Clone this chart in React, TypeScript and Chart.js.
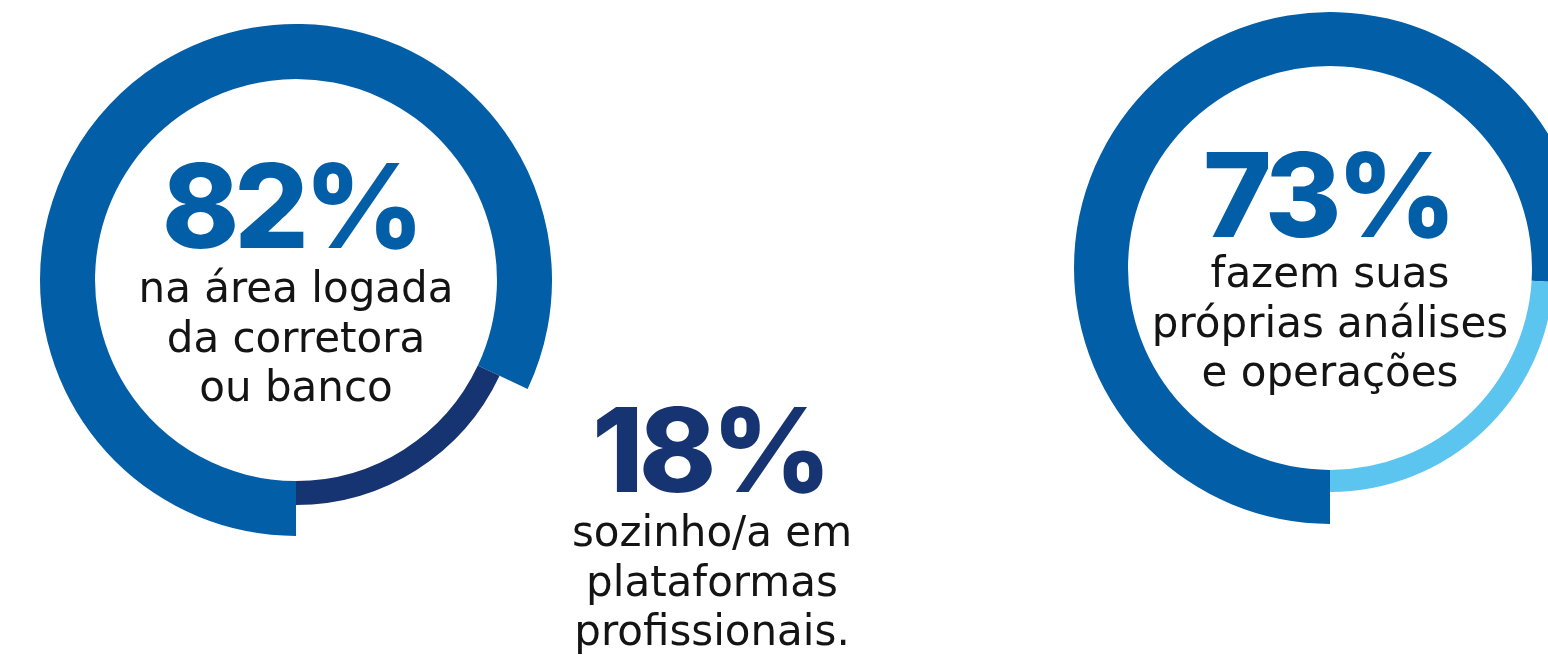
import React, { useEffect, useRef } from "react";
import { Chart, registerables } from "chart.js";

Chart.register(...registerables);

// ---- data ----
const leftCategories = ["na área logada da corretora ou banco", "sozinho/a em plataformas profissionais."];
const leftValues = [82, 18];
const rightCategories = ["fazem suas próprias análises e operações", "demais"];
// ring as drawn in the reference (the light segment spans ~24% of the circle)
const rightValues = [76, 24];

const leftBigLabel = "82%";
const leftLines = ["na área logada", "da corretora", "ou banco"];
const middleBigLabel = "18%";
const middleLines = ["sozinho/a em", "plataformas", "profissionais."];
const rightBigLabel = "73%";
const rightLines = ["fazem suas", "próprias análises", "e operações"];

// ---- styles ----
const BLUE = "#035ea8";
const NAVY = "#163372";
const LIGHT = "#5bc5f0";
const TRANSPARENT = "rgba(0,0,0,0)";

type RingProps = {
  labels: string[];
  values: number[];
  colors: string[];
  left: number;
  top: number;
  size: number;
  cutout: string;
};

function Ring(p: RingProps) {
  const ref = useRef<HTMLCanvasElement | null>(null);
  useEffect(() => {
    if (!ref.current) return;
    const chart = new Chart(ref.current, {
      type: "doughnut",
      data: {
        labels: p.labels,
        datasets: [
          {
            data: p.values,
            backgroundColor: p.colors,
            borderWidth: 0,
          },
        ],
      },
      options: {
        responsive: false,
        animation: false,
        events: [],
        rotation: 180,
        cutout: p.cutout,
        hoverOffset: 0,
        layout: { padding: 0 },
        plugins: { legend: { display: false }, tooltip: { enabled: false } },
      } as any,
    });
    return () => chart.destroy();
  }, []);
  return (
    <canvas
      ref={ref}
      width={p.size}
      height={p.size}
      style={{ position: "absolute", left: p.left, top: p.top, width: p.size, height: p.size }}
    />
  );
}

function BigLabel(props: { text: string; cx: number; top: number; color: string }) {
  return (
    <div
      style={{
        position: "absolute",
        left: props.cx - 250,
        top: props.top,
        width: 500,
        textAlign: "center",
        fontFamily: "Inter, 'DejaVu Sans', sans-serif",
        fontWeight: 800,
        fontSize: 117,
        lineHeight: "117px",
        letterSpacing: "-5px",
        textIndent: "-5px",
        color: props.color,
        whiteSpace: "nowrap",
      }}
    >
      {props.text}
    </div>
  );
}

function Lines(props: { lines: string[]; cx: number; top: number }) {
  return (
    <div
      style={{
        position: "absolute",
        left: props.cx - 250,
        top: props.top,
        width: 500,
        textAlign: "center",
        fontFamily: "'DejaVu Sans', sans-serif",
        fontSize: 42,
        lineHeight: "49.5px",
        color: "#141414",
        whiteSpace: "nowrap",
      }}
    >
      {props.lines.map((l, i) => (
        <div key={i}>{l}</div>
      ))}
    </div>
  );
}

export default function App() {
  return (
    <div
      style={{
        position: "absolute",
        left: 0,
        top: 0,
        width: 1548,
        height: 655,
        overflow: "hidden",
        background: "#ffffff",
      }}
    >
      {/* left: thick main arc + thinner minor arc */}
      <Ring labels={leftCategories} values={leftValues} colors={[BLUE, TRANSPARENT]} left={40} top={24} size={512} cutout="78.5%" />
      <Ring labels={leftCategories} values={leftValues} colors={[TRANSPARENT, NAVY]} left={71} top={55} size={450} cutout="89.3%" />
      {/* right */}
      <Ring labels={rightCategories} values={rightValues} colors={[BLUE, TRANSPARENT]} left={1074} top={12} size={512} cutout="78.9%" />
      <Ring labels={rightCategories} values={rightValues} colors={[TRANSPARENT, LIGHT]} left={1106} top={44} size={448} cutout="90.2%" />

      <BigLabel text={leftBigLabel} cx={293} top={147} color={BLUE} />
      <Lines lines={leftLines} cx={296} top={263} />
      <BigLabel text={middleBigLabel} cx={712} top={391} color={NAVY} />
      <Lines lines={middleLines} cx={712} top={507} />
      <BigLabel text={rightBigLabel} cx={1330} top={136} color={BLUE} />
      <Lines lines={rightLines} cx={1330} top={248} />
    </div>
  );
}
